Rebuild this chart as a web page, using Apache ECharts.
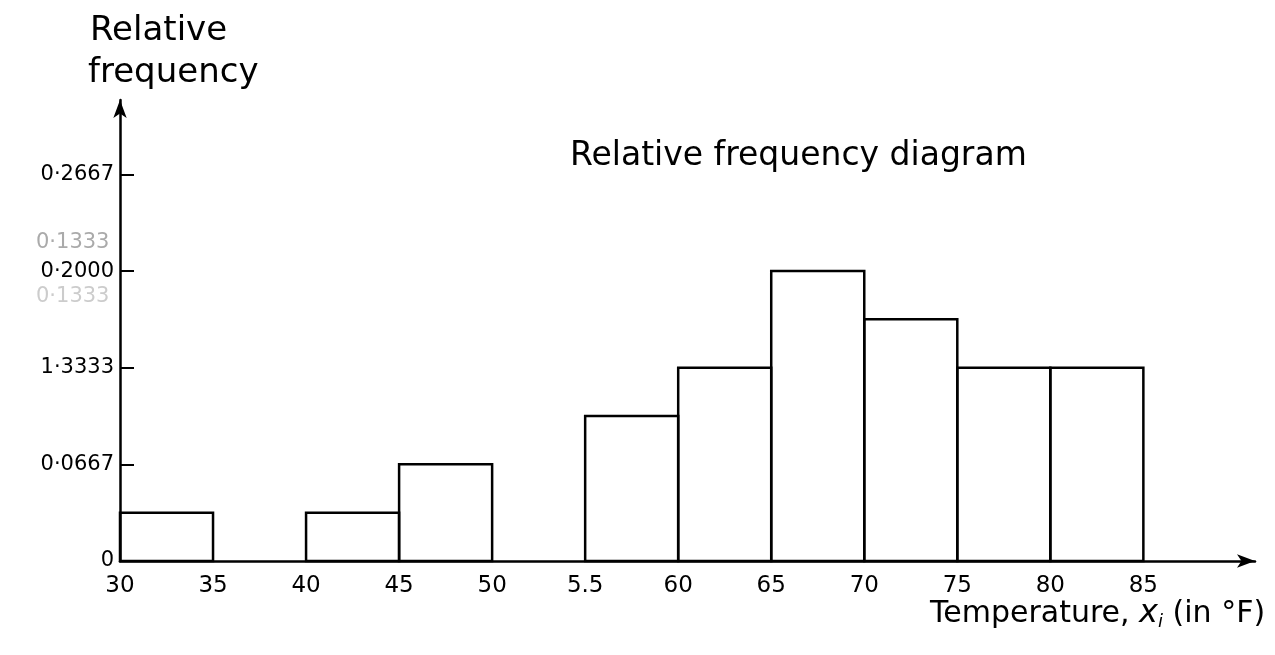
<!DOCTYPE html>
<html>
<head>
<meta charset="utf-8">
<script src="https://cdn.jsdelivr.net/npm/echarts@6/dist/echarts.min.js"></script>
<style>html,body{margin:0;padding:0;background:#fff;}#c{width:1275px;height:655px;}</style>
</head>
<body>
<div id="c"></div>
<script>
// Class intervals (lower, upper) in °F and relative frequencies
var classLower = [30, 35, 40, 45, 50, 55, 60, 65, 70, 75, 80];
var classUpper = [35, 40, 45, 50, 55, 60, 65, 70, 75, 80, 85];
var relFreq = [0.0333, 0, 0.0333, 0.0667, 0, 0.1, 0.1333, 0.2, 0.1667, 0.1333, 0.1333];
var xTickValues = [30, 35, 40, 45, 50, 55, 60, 65, 70, 75, 80, 85];
var xTickLabels = ['30', '35', '40', '45', '50', '5.5', '60', '65', '70', '75', '80', '85'];
var yTickValues = [0, 0.0667, 0.1333, 0.2, 0.2667];
var yTickLabels = ['0', '0·0667', '1·3333', '0·2000', '0·2667'];

var font = 'DejaVu Sans';
var chart = echarts.init(document.getElementById('c'));
var data = [];
for (var i = 0; i < classLower.length; i++) {
  if (relFreq[i] > 0) data.push([classLower[i], classUpper[i], relFreq[i]]);
}
chart.setOption({
  backgroundColor: '#fff',
  animation: false,
  grid: {left: 120, right: 20, top: 100, bottom: 94},
  xAxis: {
    type: 'value', min: 30, max: 91,
    splitLine: {show: false},
    axisLine: {show: true, lineStyle: {color: '#000', width: 2.5}, symbol: ['none', 'arrow'], symbolSize: [10, 18]},
    axisTick: {show: false},
    axisLabel: {
      customValues: xTickValues, margin: 14, color: '#000', fontFamily: font, fontSize: 23,
      formatter: function (v) { var k = xTickValues.indexOf(v); return k >= 0 ? xTickLabels[k] : ''; }
    }
  },
  yAxis: {
    type: 'value', min: 0, max: 0.318,
    splitLine: {show: false},
    axisLine: {show: true, lineStyle: {color: '#000', width: 2.5}, symbol: ['none', 'arrow'], symbolSize: [10, 18]},
    axisTick: {show: true, inside: true, length: 14, lineStyle: {color: '#000', width: 2},
      customValues: yTickValues.slice(1)},
    axisLabel: {
      customValues: yTickValues, margin: 6, color: '#000', fontFamily: font, fontSize: 21,
      formatter: function (v) {
        for (var k = 0; k < yTickValues.length; k++) if (Math.abs(v - yTickValues[k]) < 1e-6) return yTickLabels[k];
        return '';
      }
    }
  },
  series: [{
    type: 'custom',
    data: data,
    renderItem: function (params, api) {
      var p0 = api.coord([api.value(0), 0]);
      var p1 = api.coord([api.value(1), api.value(2)]);
      return {
        type: 'rect',
        shape: {x: p0[0], y: p1[1], width: p1[0] - p0[0], height: p0[1] - p1[1]},
        style: {fill: 'rgba(255,255,255,0)', stroke: '#000', lineWidth: 2.5}
      };
    },
    encode: {x: [0, 1], y: 2}
  }],
  graphic: [
    {type: 'text', left: 90, top: 14, style: {text: 'Relative', font: '34px ' + font, fill: '#000'}},
    {type: 'text', left: 88, top: 56, style: {text: 'frequency', font: '34px ' + font, fill: '#000'}},
    {type: 'text', left: 570, top: 140, style: {text: 'Relative frequency diagram', font: '33px ' + font, fill: '#000'}},
    {type: 'text', left: 930, top: 598, style: {
      text: '{a|Temperature, }{b|x}{c|i}{a| (in °F)}',
      rich: {
        a: {font: '30px ' + font, fill: '#000'},
        b: {font: 'italic 32px ' + font, fill: '#000'},
        c: {font: 'italic 18px ' + font, fill: '#000', padding: [16, 0, 0, 0]}
      }
    }},
    {type: 'text', left: 36, top: 232, style: {text: '0·1333', font: '21px ' + font, fill: '#aaa'}},
    {type: 'text', left: 36, top: 286, style: {text: '0·1333', font: '21px ' + font, fill: '#ccc'}}
  ]
});
</script>
</body>
</html>
